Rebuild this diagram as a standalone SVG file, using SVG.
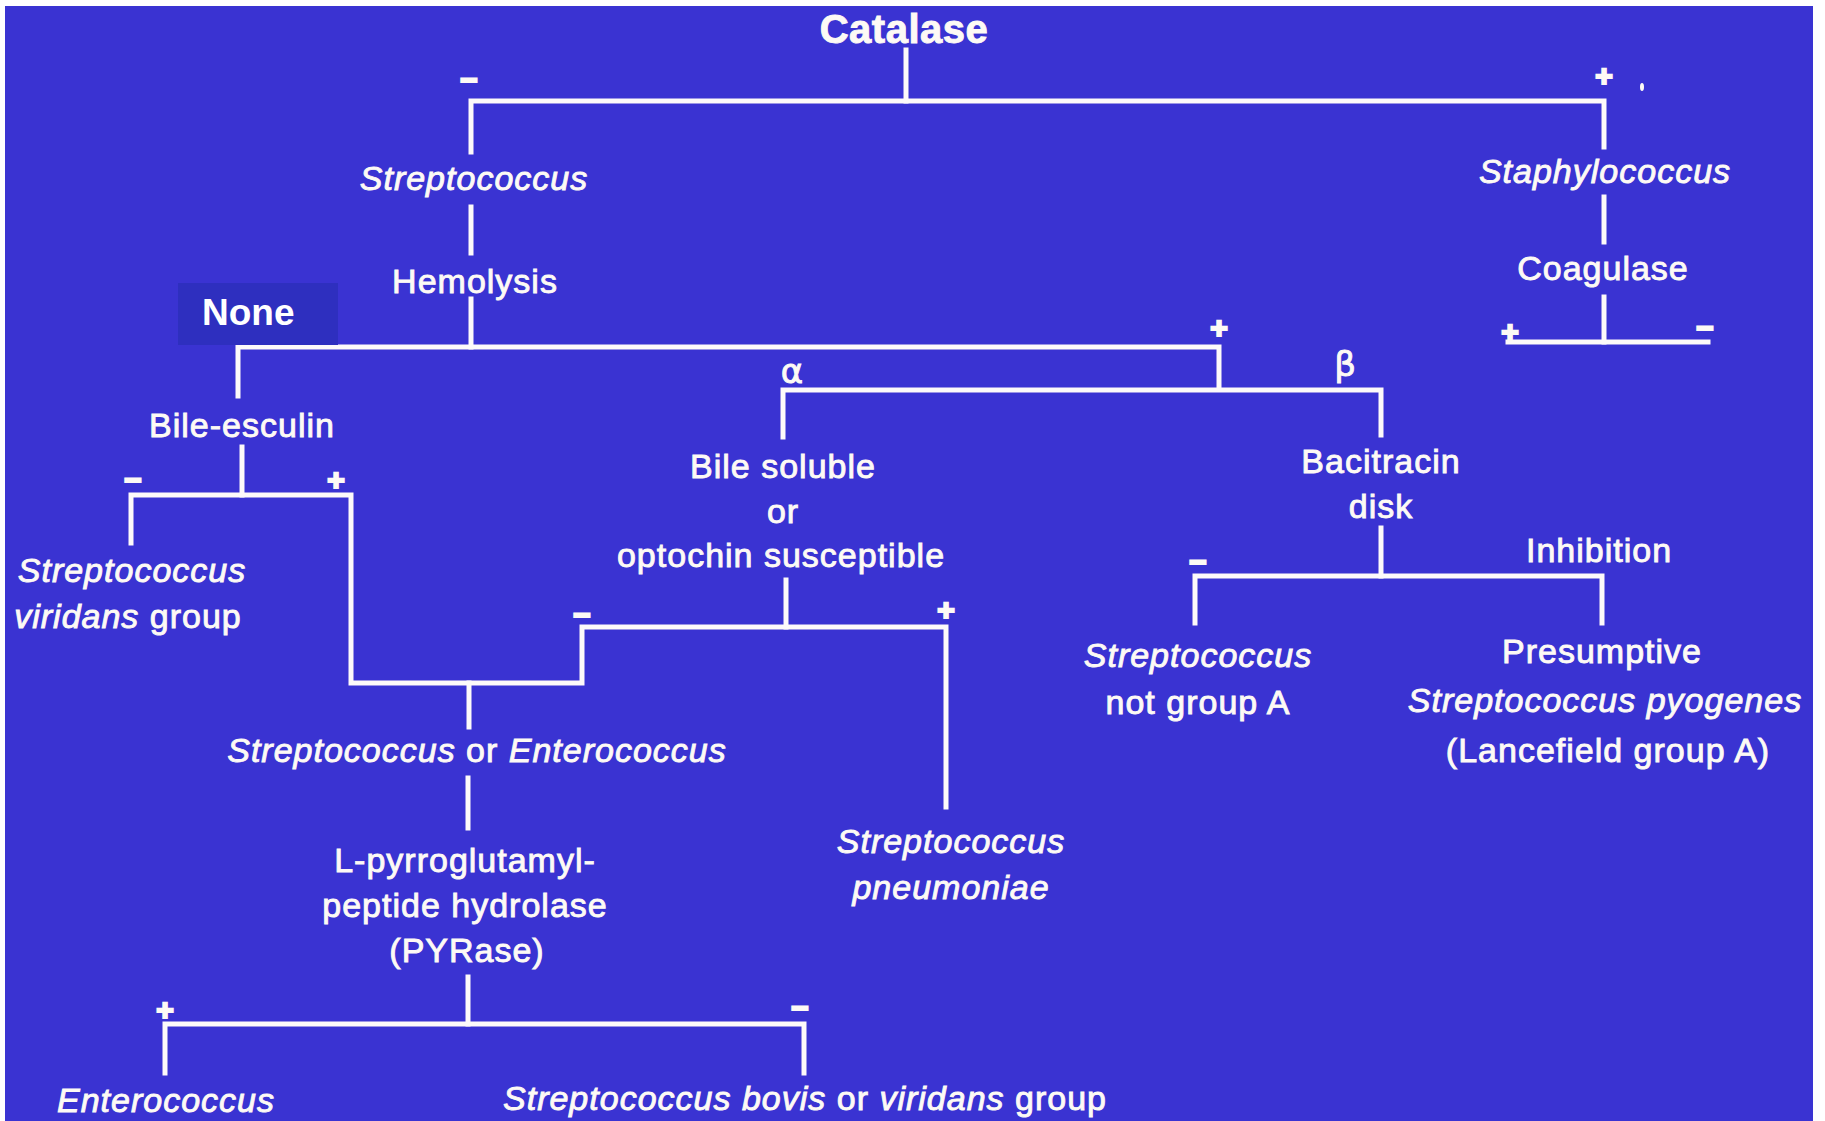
<svg xmlns="http://www.w3.org/2000/svg" width="1825" height="1121" viewBox="0 0 1825 1121">
<style>
.t{font-family:"Liberation Sans",Arial,sans-serif;font-size:34px;fill:#fdfaf5;stroke:#fdfaf5;stroke-width:0.9px;text-anchor:middle;letter-spacing:1px}
.i{font-style:italic}
.b{font-weight:bold}
.s{font-family:"Liberation Sans",Arial,sans-serif;font-size:30px;font-weight:bold;fill:#fdfaf5;stroke:#fdfaf5;stroke-width:2.2px;text-anchor:middle}
.g{font-family:"DejaVu Sans","Liberation Sans",sans-serif;font-size:34px;fill:#fdfaf5;stroke:#fdfaf5;stroke-width:0.9px;text-anchor:middle}
.c{fill:none;stroke:#fdfafa;stroke-width:5;stroke-linecap:square;stroke-linejoin:miter}
</style>
<rect x="0" y="0" width="1825" height="1121" fill="#ffffff"/>
<rect x="5" y="6" width="1808" height="1115" fill="#3a33d2"/>
<g id="connectors">
<path class="c" d="M906 50 V101"/>
<path class="c" d="M471 152 V101 H1604 V147"/>
<path class="c" d="M471 207 V253"/>
<path class="c" d="M471 299 V347"/>
<path class="c" d="M238 396 V347 H1219 V388"/>
<path class="c" d="M783 437 V390 H1381 V435"/>
<path class="c" d="M242 447 V495"/>
<path class="c" d="M131 543 V495 H351 V683 H582 V627 H946 V807"/>
<path class="c" d="M786 580 V627"/>
<path class="c" d="M469 683 V727"/>
<path class="c" d="M468 778 V828"/>
<path class="c" d="M468 977 V1024"/>
<path class="c" d="M165 1073 V1024 H804 V1073"/>
<path class="c" d="M1381 528 V576"/>
<path class="c" d="M1195 623 V576 H1602 V623"/>
<path class="c" d="M1604 197 V242"/>
<path class="c" d="M1604 297 V342"/>
<path class="c" d="M1508 342 H1708"/>
</g>
<g id="signs">
<text class="s" x="469" y="90">−</text>
<text class="s" x="1604" y="86">+</text>
<ellipse cx="1642" cy="87" rx="2" ry="4" fill="#fdfaf5"/>
<text class="s" x="1219" y="338">+</text>
<text class="s" x="133" y="490">−</text>
<text class="s" x="336" y="490">+</text>
<text class="s" x="582" y="625">−</text>
<text class="s" x="946" y="620">+</text>
<text class="s" x="165" y="1020">+</text>
<text class="s" x="800" y="1018">−</text>
<text class="s" x="1198" y="572">−</text>
<text class="s" x="1510" y="342">+</text>
<text class="s" x="1705" y="338">−</text>
<text class="g" x="792" y="383">α</text>
<text class="g" x="1345" y="376">β</text>
</g>
<g id="none-label">
<rect x="178" y="283" width="160" height="62" fill="#2e2fbf"/>
<text x="202" y="325" font-family="Liberation Sans, Arial, sans-serif" font-size="37" font-weight="bold" fill="#ffffff">None</text>
</g>
<g id="catalase"><text class="t b" x="904" y="43" style="font-size:40px;letter-spacing:0.5px">Catalase</text></g>
<g id="streptococcus"><text class="t i" x="474" y="190">Streptococcus</text></g>
<g id="hemolysis"><text class="t" x="475" y="293">Hemolysis</text></g>
<g id="staphylococcus"><text class="t i" x="1605" y="183">Staphylococcus</text></g>
<g id="coagulase"><text class="t" x="1603" y="280">Coagulase</text></g>
<g id="bile-esculin"><text class="t" x="242" y="437">Bile-esculin</text></g>
<g id="viridans"><text class="t" x="132" y="582"><tspan class="i">Streptococcus</tspan></text><text class="t" x="128" y="628"><tspan class="i">viridans</tspan> group</text></g>
<g id="bile-soluble"><text class="t" x="783" y="478">Bile soluble</text><text class="t" x="783" y="523">or</text><text class="t" x="781" y="567">optochin susceptible</text></g>
<g id="strep-or-entero"><text class="t" x="477" y="762"><tspan class="i">Streptococcus</tspan> or <tspan class="i">Enterococcus</tspan></text></g>
<g id="pyrase"><text class="t" x="465" y="872">L-pyrroglutamyl-</text><text class="t" x="465" y="917">peptide hydrolase</text><text class="t" x="467" y="962">(PYRase)</text></g>
<g id="enterococcus"><text class="t i" x="166" y="1112">Enterococcus</text></g>
<g id="bovis"><text class="t" x="805" y="1110"><tspan class="i">Streptococcus bovis</tspan> or <tspan class="i">viridans</tspan> group</text></g>
<g id="pneumoniae"><text class="t i" x="951" y="853">Streptococcus</text><text class="t i" x="951" y="899">pneumoniae</text></g>
<g id="bacitracin"><text class="t" x="1381" y="473">Bacitracin</text><text class="t" x="1381" y="518">disk</text></g>
<g id="inhibition"><text class="t" x="1599" y="562">Inhibition</text></g>
<g id="not-group-a"><text class="t i" x="1198" y="667">Streptococcus</text><text class="t" x="1198" y="714">not group A</text></g>
<g id="pyogenes"><text class="t" x="1602" y="663">Presumptive</text><text class="t i" x="1605" y="712">Streptococcus pyogenes</text><text class="t" x="1608" y="762">(Lancefield group A)</text></g>
</svg>
